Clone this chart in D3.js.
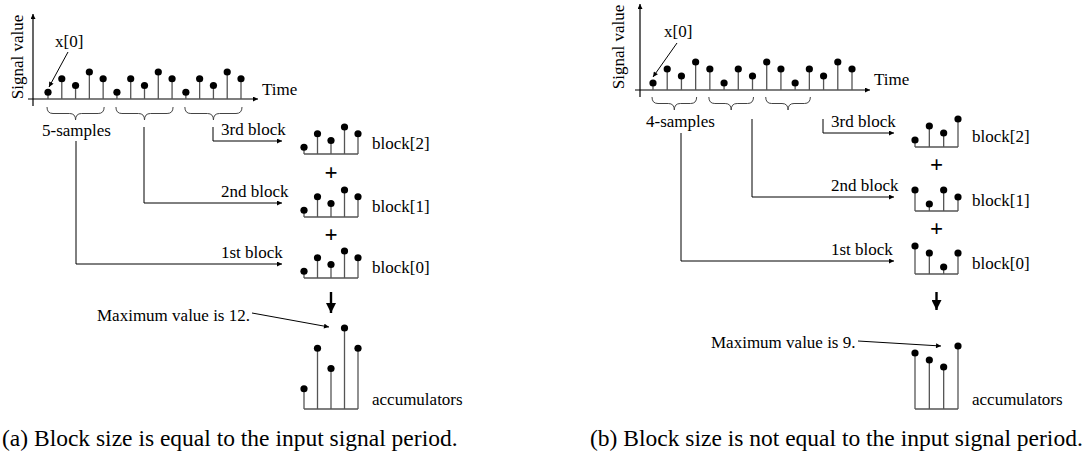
<!DOCTYPE html>
<html><head><meta charset="utf-8">
<script src="https://cdn.jsdelivr.net/npm/d3@7"></script>
<style>
body{margin:0;background:#fff;}
text{font-family:"Liberation Serif","Times New Roman",serif;fill:#000;}
</style></head>
<body>
<svg id="c" width="1087" height="457"></svg>
<script>
// ---- data ----
const signalA = [1,3,2,4,3, 1,3,2,4,3, 1,3,2,4,3];
const signalB = [1,3,2,4,3, 1,3,2,4,3, 1,3,2,4,3];
const blockLabels = ["block[2]","block[1]","block[0]"];
const blocksA = [[1,3,2,4,3],[1,3,2,4,3],[1,3,2,4,3]];
const blocksB = [[1,3,2,4],[3,1,3,2],[4,3,1,3]];
const accA = [3,9,6,12,9];
const accB = [8,7,6,9];
const arrowLabels = ["3rd block","2nd block","1st block"];
const captions = ["(a) Block size is equal to the input signal period.",
                  "(b) Block size is not equal to the input signal period."];
const maxLabels = ["Maximum value is 12.","Maximum value is 9."];
const sampleLabels = ["5-samples","4-samples"];

const svg = d3.select("#c");
const defs = svg.append("defs");
defs.append("marker").attr("id","ah").attr("viewBox","0 0 10 10").attr("refX",10).attr("refY",5)
  .attr("markerWidth",7).attr("markerHeight",5).attr("markerUnits","userSpaceOnUse").attr("orient","auto")
  .append("path").attr("d","M0,0L10,5L0,10Z").attr("fill","#000");
defs.append("marker").attr("id","ahb").attr("viewBox","0 0 10 10").attr("refX",10).attr("refY",5)
  .attr("markerWidth",10).attr("markerHeight",10).attr("markerUnits","userSpaceOnUse").attr("orient","auto")
  .append("path").attr("d","M0,0L10,5L0,10Z").attr("fill","#000");

const STEM="#555", R=3.6;

function stems(g, vals, x, y, base, withBase){
  if(withBase){
    g.append("line").attr("x1",x(0)).attr("x2",x(vals.length-1)).attr("y1",base).attr("y2",base)
     .attr("stroke",STEM).attr("stroke-width",1.3);
  }
  g.selectAll(null).data(vals).join("line")
   .attr("x1",(d,i)=>x(i)).attr("x2",(d,i)=>x(i)).attr("y1",base).attr("y2",d=>y(d))
   .attr("stroke",STEM).attr("stroke-width",1.3);
  g.selectAll(null).data(vals).join("circle")
   .attr("cx",(d,i)=>x(i)).attr("cy",d=>y(d)).attr("r",R).attr("fill","#000");
}
function braceP(x1,x2,y,h){
  const xm=(x1+x2)/2, ym=y+h/2;
  return `M${x1},${y}Q${x1},${ym} ${x1+6},${ym}L${xm-6},${ym}Q${xm},${ym} ${xm},${y+h}`+
         `Q${xm},${ym} ${xm+6},${ym}L${x2-6},${ym}Q${x2},${ym} ${x2},${y}`;
}
function line(g,pts,marker,w){
  g.append("path").attr("d",d3.line()(pts)).attr("fill","none").attr("stroke","#000")
   .attr("stroke-width",w||1).attr("marker-end",marker?`url(#${marker})`:null);
}

function panel(cfg){
  const g = svg.append("g");
  // axes
  line(g,[[cfg.ax, cfg.axBottom],[cfg.ax, cfg.axTop]],"ah",1.2);
  line(g,[[cfg.ax-5, cfg.ay],[cfg.axRight, cfg.ay]],"ah",1.2);
  g.append("text").attr("transform",`translate(${cfg.sigX},${cfg.sigY}) rotate(-90)`)
   .attr("text-anchor","middle").attr("font-size",17).text("Signal value");
  g.append("text").attr("x",cfg.axRight+4).attr("y",cfg.timeY).attr("font-size",17).text("Time");
  // signal
  const x = d3.scaleLinear().domain([0,cfg.signal.length-1]).range(cfg.sigRange);
  const y = d3.scaleLinear().domain([0,1]).range([cfg.ay, cfg.ay-cfg.unit]);
  stems(g,cfg.signal,x,y,cfg.ay,false);
  // x[0]
  g.append("text").attr("x",cfg.x0[0]).attr("y",cfg.x0[1]).attr("font-size",17).text("x[0]");
  line(g,cfg.x0arrow,"ah",1);
  // braces
  const n=cfg.blockSize;
  for(let b=0;b<3;b++){
    g.append("path").attr("d",braceP(x(b*n)-1,x(b*n+n-1)+1,cfg.braceY,13))
     .attr("fill","none").attr("stroke","#444").attr("stroke-width",1);
  }
  g.append("text").attr("x",cfg.sampX).attr("y",cfg.sampY).attr("font-size",17).text(cfg.sampLabel);
  // connector arrows
  cfg.conn.forEach((c,i)=>{
    line(g,[[c.x,c.y0],[c.x,c.y1],[cfg.arrowEnd,c.y1]],"ah",1);
    g.append("text").attr("x",cfg.arrowTextX).attr("y",c.y1-6).attr("font-size",17).text(arrowLabels[i]);
  });
  // blocks
  const bx = d3.scaleLinear().domain([0,n-1]).range(cfg.blockRange);
  cfg.blocks.forEach((vals,i)=>{
    const base=cfg.blockBases[i];
    const by = d3.scaleLinear().domain([0,1]).range([base, base-cfg.unit]);
    stems(g,vals,bx,by,base,true);
    g.append("text").attr("x",cfg.blockLabelX).attr("y",base-5).attr("font-size",17).text(blockLabels[i]);
  });
  cfg.plusY.forEach(py=>{
    g.append("text").attr("x",d3.mean(cfg.blockRange)).attr("y",py+7).attr("text-anchor","middle")
     .attr("font-size",23).attr("font-weight","bold").text("+");
  });
  // down arrow
  line(g,[[d3.mean(cfg.blockRange),cfg.downArrow[0]],[d3.mean(cfg.blockRange),cfg.downArrow[1]]],"ahb",2.4);
  // accumulators
  const ay = d3.scaleLinear().domain([0,1]).range([cfg.accBase, cfg.accBase-cfg.unit]);
  stems(g,cfg.acc,bx,ay,cfg.accBase,true);
  g.append("text").attr("x",cfg.blockLabelX).attr("y",cfg.accBase-4).attr("font-size",17).text("accumulators");
  g.append("text").attr("x",cfg.maxX).attr("y",cfg.maxY).attr("font-size",17).text(cfg.maxLabel);
  line(g,cfg.maxArrow,"ah",1);
  g.append("text").attr("x",cfg.capX).attr("y",446).attr("font-size",23.5).text(cfg.caption);
}

panel({
  ax:33, axTop:14, axBottom:106, ay:99, axRight:258, sigX:23, sigY:57, timeY:95,
  signal:signalA, sigRange:[48,241], unit:6.75,
  x0:[55,47], x0arrow:[[68,52],[49,87]],
  blockSize:5, braceY:107, sampX:42, sampY:136, sampLabel:sampleLabels[0],
  conn:[{x:213,y0:127,y1:141},{x:144,y0:127,y1:203},{x:76,y0:141,y1:264}],
  arrowEnd:282, arrowTextX:221,
  blocks:blocksA, blockRange:[304,358], blockBases:[154,217,278], blockLabelX:372,
  plusY:[173,235], downArrow:[292,313],
  acc:accA, accBase:409, maxX:97, maxY:321, maxLabel:maxLabels[0], maxArrow:[[252,313],[329,327]],
  capX:2, caption:captions[0]
});
panel({
  ax:640, axTop:4, axBottom:97, ay:90, axRight:870, sigX:624, sigY:47, timeY:85,
  signal:signalB, sigRange:[653,852], unit:7,
  x0:[664,37], x0arrow:[[677,43],[653,77]],
  blockSize:4, braceY:97, sampX:646, sampY:127, sampLabel:sampleLabels[1],
  conn:[{x:823,y0:119,y1:133},{x:752,y0:119,y1:197},{x:681,y0:133,y1:261}],
  arrowEnd:894, arrowTextX:831,
  blocks:blocksB, blockRange:[915,958], blockBases:[147,211,274], blockLabelX:972,
  plusY:[165,229], downArrow:[292,310],
  acc:accB, accBase:409, maxX:711, maxY:348, maxLabel:maxLabels[1], maxArrow:[[858,341],[941,346]],
  capX:590, caption:captions[1]
});
</script>
</body></html>
